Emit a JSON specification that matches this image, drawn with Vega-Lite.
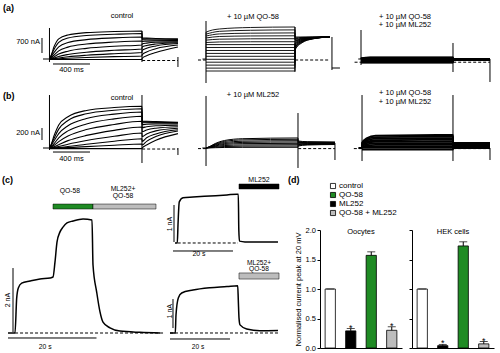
{
"$schema":"https://vega.github.io/schema/vega-lite/v6.json",
"padding":0,
"background":"white",
"config":{"view":{"stroke":null},"font":"Liberation Sans","mark":{"color":"black"},"text":{"color":"black","font":"Liberation Sans"},"axis":{"labelFont":"Liberation Sans","titleFont":"Liberation Sans"},"legend":{"labelFont":"Liberation Sans"},"title":{"font":"Liberation Sans"}},
"datasets":{
"a1":[
{"k":1,"t":-70,"i":0},{"k":1,"t":0,"i":0},{"k":1,"t":50,"i":588},{"k":1,"t":100,"i":941},{"k":1,"t":200,"i":1124},{"k":1,"t":400,"i":1229},{"k":1,"t":700,"i":1281},{"k":1,"t":1000,"i":1307},{"k":1,"t":1002,"i":980},{"k":1,"t":1050,"i":975},{"k":1,"t":1150,"i":960},{"k":1,"t":1389,"i":940},
{"k":2,"t":0,"i":0},{"k":2,"t":50,"i":452},{"k":2,"t":100,"i":774},{"k":2,"t":200,"i":976},{"k":2,"t":400,"i":1095},{"k":2,"t":700,"i":1154},{"k":2,"t":1000,"i":1190},{"k":2,"t":1002,"i":950},{"k":2,"t":1050,"i":940},{"k":2,"t":1150,"i":930},{"k":2,"t":1389,"i":910},
{"k":3,"t":0,"i":0},{"k":3,"t":50,"i":308},{"k":3,"t":100,"i":565},{"k":3,"t":200,"i":770},{"k":3,"t":400,"i":904},{"k":3,"t":700,"i":986},{"k":3,"t":1000,"i":1027},{"k":3,"t":1002,"i":900},{"k":3,"t":1050,"i":890},{"k":3,"t":1150,"i":880},{"k":3,"t":1389,"i":870},
{"k":4,"t":0,"i":0},{"k":4,"t":50,"i":185},{"k":4,"t":100,"i":378},{"k":4,"t":200,"i":554},{"k":4,"t":400,"i":697},{"k":4,"t":700,"i":790},{"k":4,"t":1000,"i":840},{"k":4,"t":1002,"i":820},{"k":4,"t":1050,"i":830},{"k":4,"t":1150,"i":840},{"k":4,"t":1389,"i":840},
{"k":5,"t":0,"i":0},{"k":5,"t":50,"i":98},{"k":5,"t":100,"i":229},{"k":5,"t":200,"i":366},{"k":5,"t":400,"i":496},{"k":5,"t":700,"i":594},{"k":5,"t":1000,"i":653},{"k":5,"t":1002,"i":700},{"k":5,"t":1050,"i":740},{"k":5,"t":1150,"i":780},{"k":5,"t":1389,"i":800},
{"k":6,"t":0,"i":0},{"k":6,"t":50,"i":47},{"k":6,"t":100,"i":117},{"k":6,"t":200,"i":210},{"k":6,"t":400,"i":318},{"k":6,"t":700,"i":406},{"k":6,"t":1000,"i":467},{"k":6,"t":1002,"i":560},{"k":6,"t":1050,"i":630},{"k":6,"t":1150,"i":700},{"k":6,"t":1389,"i":760},
{"k":7,"t":0,"i":0},{"k":7,"t":50,"i":18},{"k":7,"t":100,"i":48},{"k":7,"t":200,"i":103},{"k":7,"t":400,"i":176},{"k":7,"t":700,"i":248},{"k":7,"t":1000,"i":303},{"k":7,"t":1002,"i":400},{"k":7,"t":1050,"i":500},{"k":7,"t":1150,"i":610},{"k":7,"t":1389,"i":720},
{"k":8,"t":0,"i":0},{"k":8,"t":50,"i":4},{"k":8,"t":100,"i":14},{"k":8,"t":200,"i":35},{"k":8,"t":400,"i":70},{"k":8,"t":700,"i":109},{"k":8,"t":1000,"i":140},{"k":8,"t":1002,"i":200},{"k":8,"t":1050,"i":330},{"k":8,"t":1150,"i":480},{"k":8,"t":1389,"i":650},
{"k":9,"t":0,"i":-20},{"k":9,"t":1000,"i":-20},{"k":9,"t":1002,"i":30},{"k":9,"t":1050,"i":150},{"k":9,"t":1150,"i":300},{"k":9,"t":1389,"i":560}
],
"a2":[
{"k":1,"t":-40,"i":0},{"k":1,"t":-1,"i":0},{"k":1,"t":0,"i":1250},{"k":1,"t":150,"i":1400},{"k":1,"t":500,"i":1470},{"k":1,"t":1000,"i":1493},{"k":1,"t":1002,"i":1027},{"k":1,"t":1080,"i":1027},{"k":1,"t":1200,"i":1027},{"k":1,"t":1394,"i":1027},
{"k":2,"t":0,"i":1160},{"k":2,"t":150,"i":1290},{"k":2,"t":500,"i":1340},{"k":2,"t":1000,"i":1358},{"k":2,"t":1002,"i":987},{"k":2,"t":1080,"i":1009},{"k":2,"t":1200,"i":1021},{"k":2,"t":1394,"i":1027},
{"k":3,"t":0,"i":1070},{"k":3,"t":150,"i":1170},{"k":3,"t":500,"i":1205},{"k":3,"t":1000,"i":1218},{"k":3,"t":1002,"i":947},{"k":3,"t":1080,"i":991},{"k":3,"t":1200,"i":1015},{"k":3,"t":1394,"i":1027},
{"k":4,"t":0,"i":980},{"k":4,"t":150,"i":1050},{"k":4,"t":500,"i":1075},{"k":4,"t":1000,"i":1083},{"k":4,"t":1002,"i":907},{"k":4,"t":1080,"i":973},{"k":4,"t":1200,"i":1009},{"k":4,"t":1394,"i":1027},
{"k":5,"t":0,"i":880},{"k":5,"t":150,"i":925},{"k":5,"t":500,"i":942},{"k":5,"t":1000,"i":947},{"k":5,"t":1002,"i":867},{"k":5,"t":1080,"i":955},{"k":5,"t":1200,"i":1003},{"k":5,"t":1394,"i":1027},
{"k":6,"t":0,"i":770},{"k":6,"t":150,"i":795},{"k":6,"t":500,"i":805},{"k":6,"t":1000,"i":807},{"k":6,"t":1002,"i":827},{"k":6,"t":1080,"i":937},{"k":6,"t":1200,"i":997},{"k":6,"t":1394,"i":1027},
{"k":7,"t":0,"i":672},{"k":7,"t":1000,"i":672},{"k":7,"t":1002,"i":787},{"k":7,"t":1080,"i":919},{"k":7,"t":1200,"i":991},{"k":7,"t":1394,"i":1027},
{"k":8,"t":0,"i":537},{"k":8,"t":1000,"i":537},{"k":8,"t":1002,"i":747},{"k":8,"t":1080,"i":901},{"k":8,"t":1200,"i":985},{"k":8,"t":1394,"i":1027},
{"k":9,"t":0,"i":397},{"k":9,"t":1000,"i":397},{"k":9,"t":1002,"i":707},{"k":9,"t":1080,"i":883},{"k":9,"t":1200,"i":979},{"k":9,"t":1394,"i":1027},
{"k":10,"t":0,"i":261},{"k":10,"t":1000,"i":261},{"k":10,"t":1002,"i":667},{"k":10,"t":1080,"i":865},{"k":10,"t":1200,"i":973},{"k":10,"t":1394,"i":1027},
{"k":11,"t":0,"i":126},{"k":11,"t":1000,"i":126},{"k":11,"t":1002,"i":627},{"k":11,"t":1080,"i":847},{"k":11,"t":1200,"i":967},{"k":11,"t":1394,"i":1027},
{"k":12,"t":0,"i":-14},{"k":12,"t":1000,"i":-14},{"k":12,"t":1002,"i":587},{"k":12,"t":1080,"i":829},{"k":12,"t":1200,"i":961},{"k":12,"t":1394,"i":1027},
{"k":13,"t":0,"i":-149},{"k":13,"t":1000,"i":-149},{"k":13,"t":1002,"i":547},{"k":13,"t":1080,"i":811},{"k":13,"t":1200,"i":955},{"k":13,"t":1394,"i":1027},
{"k":14,"t":0,"i":-285},{"k":14,"t":1000,"i":-285},{"k":14,"t":1002,"i":507},{"k":14,"t":1080,"i":793},{"k":14,"t":1200,"i":949},{"k":14,"t":1394,"i":1027},
{"k":15,"t":0,"i":-425},{"k":15,"t":1000,"i":-425},{"k":15,"t":1002,"i":467},{"k":15,"t":1080,"i":775},{"k":15,"t":1200,"i":943},{"k":15,"t":1394,"i":1027},
{"k":16,"t":0,"i":-560},{"k":16,"t":1000,"i":-560},{"k":16,"t":1002,"i":427},{"k":16,"t":1080,"i":757},{"k":16,"t":1200,"i":937},{"k":16,"t":1394,"i":1027}
],
"a3":[
{"k":1,"t":-30,"i":0},{"k":1,"t":-1,"i":0},{"k":1,"t":0,"i":47},{"k":1,"t":100,"i":93},{"k":1,"t":1000,"i":93},{"k":1,"t":1002,"i":20},{"k":1,"t":1402,"i":20},
{"k":2,"t":0,"i":37},{"k":2,"t":100,"i":74},{"k":2,"t":1000,"i":74},{"k":2,"t":1002,"i":15},{"k":2,"t":1402,"i":15},
{"k":3,"t":0,"i":28},{"k":3,"t":100,"i":56},{"k":3,"t":1000,"i":56},{"k":3,"t":1002,"i":10},{"k":3,"t":1402,"i":10},
{"k":4,"t":0,"i":19},{"k":4,"t":100,"i":37},{"k":4,"t":1000,"i":37},{"k":4,"t":1002,"i":5},{"k":4,"t":1402,"i":5},
{"k":5,"t":0,"i":9},{"k":5,"t":100,"i":18},{"k":5,"t":1000,"i":18},{"k":5,"t":1002,"i":0},{"k":5,"t":1402,"i":0},
{"k":6,"t":0,"i":0},{"k":6,"t":1000,"i":0},{"k":6,"t":1002,"i":-5},{"k":6,"t":1402,"i":-5},
{"k":7,"t":0,"i":-19},{"k":7,"t":1000,"i":-19},{"k":7,"t":1002,"i":-10},{"k":7,"t":1402,"i":-10},
{"k":8,"t":0,"i":-37},{"k":8,"t":1000,"i":-37},{"k":8,"t":1002,"i":-15},{"k":8,"t":1402,"i":-15},
{"k":9,"t":0,"i":-56},{"k":9,"t":1000,"i":-56},{"k":9,"t":1002,"i":-20},{"k":9,"t":1402,"i":-20},
{"k":10,"t":0,"i":-75},{"k":10,"t":1000,"i":-75},{"k":10,"t":1002,"i":-25},{"k":10,"t":1402,"i":-25},
{"k":11,"t":0,"i":-93},{"k":11,"t":1000,"i":-93},{"k":11,"t":1002,"i":-30},{"k":11,"t":1402,"i":-30},
{"k":12,"t":0,"i":-112},{"k":12,"t":1000,"i":-112},{"k":12,"t":1002,"i":-35},{"k":12,"t":1402,"i":-35},
{"k":13,"t":0,"i":-131},{"k":13,"t":1000,"i":-131},{"k":13,"t":1002,"i":-40},{"k":13,"t":1402,"i":-40},
{"k":14,"t":0,"i":-149},{"k":14,"t":1000,"i":-149},{"k":14,"t":1002,"i":-45},{"k":14,"t":1402,"i":-45},
{"k":15,"t":0,"i":-168},{"k":15,"t":1000,"i":-168},{"k":15,"t":1002,"i":-50},{"k":15,"t":1402,"i":-50},
{"k":16,"t":0,"i":-187},{"k":16,"t":1000,"i":-187},{"k":16,"t":1002,"i":-55},{"k":16,"t":1402,"i":-55}
],
"b1":[
{"k":1,"t":-70,"i":0},{"k":1,"t":0,"i":0},{"k":1,"t":50,"i":209},{"k":1,"t":100,"i":382},{"k":1,"t":200,"i":521},{"k":1,"t":400,"i":626},{"k":1,"t":700,"i":674},{"k":1,"t":1000,"i":695},{"k":1,"t":1002,"i":450},{"k":1,"t":1050,"i":445},{"k":1,"t":1150,"i":440},{"k":1,"t":1389,"i":430},
{"k":2,"t":0,"i":0},{"k":2,"t":50,"i":164},{"k":2,"t":100,"i":314},{"k":2,"t":200,"i":459},{"k":2,"t":400,"i":570},{"k":2,"t":700,"i":629},{"k":2,"t":1000,"i":655},{"k":2,"t":1002,"i":440},{"k":2,"t":1050,"i":435},{"k":2,"t":1150,"i":430},{"k":2,"t":1389,"i":425},
{"k":3,"t":0,"i":0},{"k":3,"t":50,"i":120},{"k":3,"t":100,"i":240},{"k":3,"t":200,"i":372},{"k":3,"t":400,"i":492},{"k":3,"t":700,"i":564},{"k":3,"t":1000,"i":600},{"k":3,"t":1002,"i":420},{"k":3,"t":1050,"i":420},{"k":3,"t":1150,"i":418},{"k":3,"t":1389,"i":415},
{"k":4,"t":0,"i":0},{"k":4,"t":50,"i":74},{"k":4,"t":100,"i":169},{"k":4,"t":200,"i":285},{"k":4,"t":400,"i":401},{"k":4,"t":700,"i":486},{"k":4,"t":1000,"i":528},{"k":4,"t":1002,"i":390},{"k":4,"t":1050,"i":395},{"k":4,"t":1150,"i":400},{"k":4,"t":1389,"i":400},
{"k":5,"t":0,"i":0},{"k":5,"t":50,"i":45},{"k":5,"t":100,"i":107},{"k":5,"t":200,"i":200},{"k":5,"t":400,"i":307},{"k":5,"t":700,"i":392},{"k":5,"t":1000,"i":445},{"k":5,"t":1002,"i":340},{"k":5,"t":1050,"i":355},{"k":5,"t":1150,"i":370},{"k":5,"t":1389,"i":380},
{"k":6,"t":0,"i":0},{"k":6,"t":50,"i":21},{"k":6,"t":100,"i":56},{"k":6,"t":200,"i":123},{"k":6,"t":400,"i":210},{"k":6,"t":700,"i":294},{"k":6,"t":1000,"i":350},{"k":6,"t":1002,"i":270},{"k":6,"t":1050,"i":300},{"k":6,"t":1150,"i":330},{"k":6,"t":1389,"i":355},
{"k":7,"t":0,"i":0},{"k":7,"t":50,"i":10},{"k":7,"t":100,"i":25},{"k":7,"t":200,"i":63},{"k":7,"t":400,"i":125},{"k":7,"t":700,"i":195},{"k":7,"t":1000,"i":250},{"k":7,"t":1002,"i":190},{"k":7,"t":1050,"i":235},{"k":7,"t":1150,"i":285},{"k":7,"t":1389,"i":330},
{"k":8,"t":0,"i":0},{"k":8,"t":50,"i":3},{"k":8,"t":100,"i":9},{"k":8,"t":200,"i":25},{"k":8,"t":400,"i":62},{"k":8,"t":700,"i":112},{"k":8,"t":1000,"i":155},{"k":8,"t":1002,"i":110},{"k":8,"t":1050,"i":170},{"k":8,"t":1150,"i":235},{"k":8,"t":1389,"i":305},
{"k":9,"t":0,"i":0},{"k":9,"t":50,"i":1},{"k":9,"t":100,"i":3},{"k":9,"t":200,"i":8},{"k":9,"t":400,"i":23},{"k":9,"t":700,"i":47},{"k":9,"t":1000,"i":67},{"k":9,"t":1002,"i":50},{"k":9,"t":1050,"i":110},{"k":9,"t":1150,"i":190},{"k":9,"t":1389,"i":283},
{"k":10,"t":0,"i":-10},{"k":10,"t":1000,"i":-10},{"k":10,"t":1002,"i":0},{"k":10,"t":1050,"i":50},{"k":10,"t":1150,"i":130},{"k":10,"t":1389,"i":240}
],
"b2":[
{"k":1,"t":-40,"i":0},{"k":1,"t":0,"i":0},{"k":1,"t":50,"i":33},{"k":1,"t":100,"i":75},{"k":1,"t":200,"i":125},{"k":1,"t":400,"i":155},{"k":1,"t":1000,"i":167},{"k":1,"t":1002,"i":117},{"k":1,"t":1100,"i":105},{"k":1,"t":1402,"i":100},
{"k":2,"t":0,"i":0},{"k":2,"t":50,"i":29},{"k":2,"t":100,"i":65},{"k":2,"t":200,"i":109},{"k":2,"t":400,"i":135},{"k":2,"t":1000,"i":145},{"k":2,"t":1002,"i":105},{"k":2,"t":1100,"i":98},{"k":2,"t":1402,"i":94},
{"k":3,"t":0,"i":0},{"k":3,"t":50,"i":24},{"k":3,"t":100,"i":55},{"k":3,"t":200,"i":92},{"k":3,"t":400,"i":113},{"k":3,"t":1000,"i":122},{"k":3,"t":1002,"i":93},{"k":3,"t":1100,"i":90},{"k":3,"t":1402,"i":88},
{"k":4,"t":0,"i":0},{"k":4,"t":50,"i":20},{"k":4,"t":100,"i":45},{"k":4,"t":200,"i":75},{"k":4,"t":400,"i":93},{"k":4,"t":1000,"i":100},{"k":4,"t":1002,"i":81},{"k":4,"t":1100,"i":82},{"k":4,"t":1402,"i":82},
{"k":5,"t":0,"i":0},{"k":5,"t":50,"i":16},{"k":5,"t":100,"i":35},{"k":5,"t":200,"i":59},{"k":5,"t":400,"i":73},{"k":5,"t":1000,"i":78},{"k":5,"t":1002,"i":69},{"k":5,"t":1100,"i":74},{"k":5,"t":1402,"i":76},
{"k":6,"t":0,"i":0},{"k":6,"t":50,"i":11},{"k":6,"t":100,"i":25},{"k":6,"t":200,"i":41},{"k":6,"t":400,"i":51},{"k":6,"t":1000,"i":55},{"k":6,"t":1002,"i":57},{"k":6,"t":1100,"i":66},{"k":6,"t":1402,"i":70},
{"k":7,"t":0,"i":0},{"k":7,"t":50,"i":7},{"k":7,"t":100,"i":15},{"k":7,"t":200,"i":25},{"k":7,"t":400,"i":31},{"k":7,"t":1000,"i":33},{"k":7,"t":1002,"i":45},{"k":7,"t":1100,"i":58},{"k":7,"t":1402,"i":64},
{"k":8,"t":0,"i":0},{"k":8,"t":50,"i":2},{"k":8,"t":100,"i":5},{"k":8,"t":200,"i":9},{"k":8,"t":400,"i":11},{"k":8,"t":1000,"i":12},{"k":8,"t":1002,"i":33},{"k":8,"t":1100,"i":50},{"k":8,"t":1402,"i":58}
],
"b3":[
{"k":1,"t":-40,"i":0},{"k":1,"t":-1,"i":0},{"k":1,"t":0,"i":87},{"k":1,"t":50,"i":163},{"k":1,"t":150,"i":206},{"k":1,"t":1000,"i":217},{"k":1,"t":1002,"i":83},{"k":1,"t":1407,"i":83},
{"k":2,"t":0,"i":76},{"k":2,"t":50,"i":143},{"k":2,"t":150,"i":181},{"k":2,"t":1000,"i":190},{"k":2,"t":1002,"i":74},{"k":2,"t":1407,"i":74},
{"k":3,"t":0,"i":65},{"k":3,"t":50,"i":122},{"k":3,"t":150,"i":155},{"k":3,"t":1000,"i":163},{"k":3,"t":1002,"i":65},{"k":3,"t":1407,"i":65},
{"k":4,"t":0,"i":54},{"k":4,"t":50,"i":102},{"k":4,"t":150,"i":129},{"k":4,"t":1000,"i":136},{"k":4,"t":1002,"i":55},{"k":4,"t":1407,"i":55},
{"k":5,"t":0,"i":44},{"k":5,"t":50,"i":82},{"k":5,"t":150,"i":104},{"k":5,"t":1000,"i":109},{"k":5,"t":1002,"i":46},{"k":5,"t":1407,"i":46},
{"k":6,"t":0,"i":33},{"k":6,"t":50,"i":62},{"k":6,"t":150,"i":78},{"k":6,"t":1000,"i":82},{"k":6,"t":1002,"i":37},{"k":6,"t":1407,"i":37},
{"k":7,"t":0,"i":22},{"k":7,"t":50,"i":41},{"k":7,"t":150,"i":52},{"k":7,"t":1000,"i":55},{"k":7,"t":1002,"i":28},{"k":7,"t":1407,"i":28},
{"k":8,"t":0,"i":11},{"k":8,"t":50,"i":21},{"k":8,"t":150,"i":27},{"k":8,"t":1000,"i":28},{"k":8,"t":1002,"i":18},{"k":8,"t":1407,"i":18},
{"k":9,"t":0,"i":1},{"k":9,"t":1000,"i":1},{"k":9,"t":1002,"i":9},{"k":9,"t":1407,"i":9},
{"k":10,"t":0,"i":-26},{"k":10,"t":1000,"i":-26},{"k":10,"t":1002,"i":0},{"k":10,"t":1407,"i":0}
],
"cL":[
{"t":1.81,"i":0},{"t":3.39,"i":0},{"t":3.77,"i":1.09},{"t":4.14,"i":1.41},{"t":4.9,"i":1.56},{"t":6.78,"i":1.625},{"t":9.04,"i":1.69},{"t":11.3,"i":1.72},{"t":11.98,"i":1.75},{"t":12.43,"i":2.22},{"t":12.88,"i":2.84},{"t":13.56,"i":3.16},{"t":14.24,"i":3.31},{"t":15.14,"i":3.44},{"t":16.5,"i":3.5},{"t":18.76,"i":3.56},{"t":20.79,"i":3.53},{"t":21.02,"i":2.125},{"t":21.85,"i":1.28},{"t":22.6,"i":0.66},{"t":23.28,"i":0.34},{"t":24.86,"i":0.16},{"t":27.12,"i":0.06},{"t":31.64,"i":0.02},{"t":36.16,"i":0}
],
"cR1":[
{"t":5.0,"i":0},{"t":5.77,"i":0},{"t":6.0,"i":0.49},{"t":6.43,"i":1.11},{"t":7.67,"i":1.22},{"t":11.0,"i":1.24},{"t":16.67,"i":1.27},{"t":22.33,"i":1.3},{"t":25.67,"i":1.32},{"t":26.1,"i":1.32},{"t":26.27,"i":0.35},{"t":26.5,"i":0.05},{"t":28.33,"i":0.03},{"t":39.33,"i":0.03}
],
"cR2":[
{"t":3.33,"i":0},{"t":5.1,"i":0},{"t":5.33,"i":0.62},{"t":6.1,"i":1.21},{"t":7.23,"i":1.38},{"t":11.0,"i":1.48},{"t":16.67,"i":1.56},{"t":22.33,"i":1.6},{"t":25.9,"i":1.63},{"t":26.1,"i":1.14},{"t":26.33,"i":0.52},{"t":26.67,"i":0.28},{"t":28.9,"i":0.14},{"t":33.33,"i":0.08},{"t":39.33,"i":0.086}
],
"rules":[
{"p":"a1","t":0,"i":1447,"t2":0,"i2":-140},{"p":"a1","t":1000,"i":1307,"t2":1000,"i2":-140},{"p":"a1","t":1389,"i":93,"t2":1389,"i2":-373},{"p":"a1","t":-81,"i":280,"t2":-81,"i2":980},{"p":"a1","t":38,"i":-233,"t2":438,"i2":-233},
{"p":"a2","t":0,"i":1773,"t2":0,"i2":-1120},{"p":"a2","t":1000,"i":1493,"t2":1000,"i2":-607},{"p":"a2","t":1416,"i":1027,"t2":1416,"i2":-513},{"p":"a2","t":1416,"i":-420,"t2":1506,"i2":-420},
{"p":"a3","t":0,"i":1353,"t2":0,"i2":-280},{"p":"a3","t":1000,"i":747,"t2":1000,"i2":-607},{"p":"a3","t":1402,"i":0,"t2":1402,"i2":-1073},
{"p":"b1","t":0,"i":883,"t2":0,"i2":-33},{"p":"b1","t":1000,"i":883,"t2":1000,"i2":-250},{"p":"b1","t":1389,"i":0,"t2":1389,"i2":-117},{"p":"b1","t":-81,"i":133,"t2":-81,"i2":333},{"p":"b1","t":38,"i":-67,"t2":438,"i2":-67},
{"p":"b2","t":0,"i":867,"t2":0,"i2":-300},{"p":"b2","t":1000,"i":583,"t2":1000,"i2":-333},{"p":"b2","t":1402,"i":83,"t2":1402,"i2":-200},
{"p":"b3","t":0,"i":883,"t2":0,"i2":-217},{"p":"b3","t":1000,"i":883,"t2":1000,"i2":-217},{"p":"b3","t":1407,"i":0,"t2":1407,"i2":-200},
{"p":"cL","t":2.94,"i":0.03,"t2":2.94,"i2":2.03},{"p":"cL","t":1.81,"i":-0.156,"t2":21.81,"i2":-0.156},
{"p":"cR1","t":4.67,"i":0.027,"t2":4.67,"i2":1.027},{"p":"cR1","t":4.33,"i":-0.216,"t2":24.33,"i2":-0.216},
{"p":"cR2","t":4.33,"i":0.17,"t2":4.33,"i2":1.17},{"p":"cR2","t":3.33,"i":-0.207,"t2":23.33,"i2":-0.207}
],
"dash":[
{"p":"a1","t":1002,"i":-70,"t2":1389,"i2":-70},
{"p":"a2","t":-90,"i":-47,"t2":0,"i2":-47},{"p":"a2","t":1002,"i":-47,"t2":1394,"i2":-47},
{"p":"a3","t":-70,"i":-150,"t2":0,"i2":-150},{"p":"a3","t":1002,"i":-150,"t2":1402,"i2":-150},
{"p":"b1","t":1002,"i":-17,"t2":1389,"i2":-17},
{"p":"b2","t":-87,"i":-10,"t2":0,"i2":-10},{"p":"b2","t":1002,"i":-10,"t2":1402,"i2":-10},
{"p":"b3","t":-90,"i":-10,"t2":0,"i2":-10},{"p":"b3","t":1002,"i":-10,"t2":1407,"i2":-10},
{"p":"cL","t":3.4,"i":0,"t2":37,"i2":0},
{"p":"cR1","t":5.9,"i":0,"t2":26,"i2":0},
{"p":"cR2","t":3.33,"i":0,"t2":39.33,"i2":0}
],
"txt":[
{"p":"a1","t":784,"i":2007,"s":"control"},{"p":"a1","t":238,"i":-513,"s":"400 ms"},
{"p":"a2","t":528,"i":1960,"s":"+ 10 µM QO-58"},
{"p":"a3","t":478,"i":1974,"s":"+ 10 µM QO-58"},{"p":"a3","t":478,"i":1587,"s":"+ 10 µM ML252"},
{"p":"b1","t":784,"i":833,"s":"control"},{"p":"b1","t":238,"i":-183,"s":"400 ms"},
{"p":"b2","t":511,"i":883,"s":"+ 10 µM ML252"},
{"p":"b3","t":473,"i":917,"s":"+ 10 µM QO-58"},{"p":"b3","t":473,"i":767,"s":"+ 10 µM ML252"},
{"p":"cL","t":15.8,"i":4.44,"s":"QO-58"},{"p":"cL","t":27.8,"i":4.51,"s":"ML252+"},{"p":"cL","t":27.8,"i":4.29,"s":"QO-58"},{"p":"cL","t":10.2,"i":-0.44,"s":"20 s"},
{"p":"cR1","t":33,"i":1.7,"s":"ML252"},{"p":"cR1","t":13,"i":-0.305,"s":"20 s"},
{"p":"cR2","t":33,"i":2.43,"s":"ML252+"},{"p":"cR2","t":33,"i":2.19,"s":"QO-58"},{"p":"cR2","t":12.7,"i":-0.47,"s":"20 s"}
],
"txtR":[
{"p":"a1","t":-103,"i":793,"s":"700 nA"},
{"p":"b1","t":-103,"i":250,"s":"200 nA"}
],
"txtB":[
{"p":"a1","t":-503,"i":2380,"s":"(a)"},
{"p":"b1","t":-503,"i":867,"s":"(b)"},
{"p":"cL","t":0.45,"i":4.78,"s":"(c)"},
{"p":"cR1","t":42.67,"i":1.7,"s":"(d)"}
],
"txtV":[
{"p":"cL","t":1.81,"i":1.03,"s":"2 nA"},
{"p":"cR1","t":3.17,"i":0.51,"s":"1 nA"},
{"p":"cR2","t":3.17,"i":0.75,"s":"1 nA"}
],
"rect":[
{"p":"cL","t":11.98,"t2":21.02,"i":3.875,"i2":4.03,"g":"QO-58"},
{"p":"cL","t":21.02,"t2":35.25,"i":3.875,"i2":4.03,"g":"QO-58 + ML252"},
{"p":"cR1","t":26.33,"t2":39.67,"i":1.46,"i2":1.595,"g":"ML252"},
{"p":"cR2","t":26.33,"t2":39.67,"i":1.86,"i2":2.07,"g":"QO-58 + ML252"}
],
"bars":[
{"c":"Oocytes","g":"control","v":1,"hi":1,"s":""},
{"c":"Oocytes","g":"ML252","v":0.29,"hi":0.33,"s":"*"},
{"c":"Oocytes","g":"QO-58","v":1.57,"hi":1.63,"s":""},
{"c":"Oocytes","g":"QO-58 + ML252","v":0.3,"hi":0.36,"s":"*"},
{"c":"HEK cells","g":"control","v":1,"hi":1,"s":""},
{"c":"HEK cells","g":"ML252","v":0.04,"hi":0.06,"s":"*"},
{"c":"HEK cells","g":"QO-58","v":1.73,"hi":1.8,"s":""},
{"c":"HEK cells","g":"QO-58 + ML252","v":0.07,"hi":0.11,"s":"*"}
]
},
"spacing":0,
"vconcat":[
{"hconcat":[
{"width":165,"height":88,
"encoding":{"x":{"field":"t","type":"quantitative","scale":{"domain":[-535,1249],"nice":false,"zero":false},"axis":null},"y":{"field":"i","type":"quantitative","scale":{"domain":[-1353,2753],"nice":false,"zero":false},"axis":null}},
"layer":[
{"data":{"name":"a1"},"mark":{"type":"line","interpolate":"monotone","color":"black","strokeWidth":1.1},"encoding":{"detail":{"field":"k","type":"nominal"}}},
{"data":{"name":"rules"},"transform":[{"filter":"datum.p=='a1'"}],"mark":{"type":"rule","color":"black","strokeWidth":1},"encoding":{"x2":{"field":"t2"},"y2":{"field":"i2"}}},
{"data":{"name":"dash"},"transform":[{"filter":"datum.p=='a1'"}],"mark":{"type":"rule","color":"black","strokeWidth":1,"strokeDash":[3,2]},"encoding":{"x2":{"field":"t2"},"y2":{"field":"i2"}}},
{"data":{"name":"txt"},"transform":[{"filter":"datum.p=='a1'"}],"mark":{"type":"text","fontSize":7.5,"align":"center","baseline":"middle","color":"black"},"encoding":{"text":{"field":"s"}}},
{"data":{"name":"txtR"},"transform":[{"filter":"datum.p=='a1'"}],"mark":{"type":"text","fontSize":7.5,"align":"right","baseline":"middle","color":"black"},"encoding":{"text":{"field":"s"}}},
{"data":{"name":"txtB"},"transform":[{"filter":"datum.p=='a1'"}],"mark":{"type":"text","fontSize":9,"fontWeight":"bold","align":"left","baseline":"middle","color":"black"},"encoding":{"text":{"field":"s"}}}
]},
{"width":165,"height":88,
"encoding":{"x":{"field":"t","type":"quantitative","scale":{"domain":[-461,1394],"nice":false,"zero":false},"axis":null},"y":{"field":"i","type":"quantitative","scale":{"domain":[-1353,2753],"nice":false,"zero":false},"axis":null}},
"layer":[
{"data":{"name":"a2"},"mark":{"type":"line","interpolate":"monotone","color":"black","strokeWidth":0.9},"encoding":{"detail":{"field":"k","type":"nominal"}}},
{"data":{"name":"rules"},"transform":[{"filter":"datum.p=='a2'"}],"mark":{"type":"rule","color":"black","strokeWidth":1},"encoding":{"x2":{"field":"t2"},"y2":{"field":"i2"}}},
{"data":{"name":"dash"},"transform":[{"filter":"datum.p=='a2'"}],"mark":{"type":"rule","color":"black","strokeWidth":1,"strokeDash":[3,2]},"encoding":{"x2":{"field":"t2"},"y2":{"field":"i2"}}},
{"data":{"name":"txt"},"transform":[{"filter":"datum.p=='a2'"}],"mark":{"type":"text","fontSize":7.5,"align":"center","baseline":"middle","color":"black"},"encoding":{"text":{"field":"s"}}}
]},
{"width":170,"height":88,
"encoding":{"x":{"field":"t","type":"quantitative","scale":{"domain":[-337,1511],"nice":false,"zero":false},"axis":null},"y":{"field":"i","type":"quantitative","scale":{"domain":[-1353,2753],"nice":false,"zero":false},"axis":null}},
"layer":[
{"data":{"name":"a3"},"mark":{"type":"line","interpolate":"monotone","color":"black","strokeWidth":1.2},"encoding":{"detail":{"field":"k","type":"nominal"}}},
{"data":{"name":"rules"},"transform":[{"filter":"datum.p=='a3'"}],"mark":{"type":"rule","color":"black","strokeWidth":1},"encoding":{"x2":{"field":"t2"},"y2":{"field":"i2"}}},
{"data":{"name":"dash"},"transform":[{"filter":"datum.p=='a3'"}],"mark":{"type":"rule","color":"black","strokeWidth":1,"strokeDash":[3,2]},"encoding":{"x2":{"field":"t2"},"y2":{"field":"i2"}}},
{"data":{"name":"txt"},"transform":[{"filter":"datum.p=='a3'"}],"mark":{"type":"text","fontSize":7.5,"align":"center","baseline":"middle","color":"black"},"encoding":{"text":{"field":"s"}}}
]}
],"spacing":0,"bounds":"flush"},
{"hconcat":[
{"width":165,"height":81,
"encoding":{"x":{"field":"t","type":"quantitative","scale":{"domain":[-535,1249],"nice":false,"zero":false},"axis":null},"y":{"field":"i","type":"quantitative","scale":{"domain":[-350,1000],"nice":false,"zero":false},"axis":null}},
"layer":[
{"data":{"name":"b1"},"mark":{"type":"line","interpolate":"monotone","color":"black","strokeWidth":1.1},"encoding":{"detail":{"field":"k","type":"nominal"}}},
{"data":{"name":"rules"},"transform":[{"filter":"datum.p=='b1'"}],"mark":{"type":"rule","color":"black","strokeWidth":1},"encoding":{"x2":{"field":"t2"},"y2":{"field":"i2"}}},
{"data":{"name":"dash"},"transform":[{"filter":"datum.p=='b1'"}],"mark":{"type":"rule","color":"black","strokeWidth":1,"strokeDash":[3,2]},"encoding":{"x2":{"field":"t2"},"y2":{"field":"i2"}}},
{"data":{"name":"txt"},"transform":[{"filter":"datum.p=='b1'"}],"mark":{"type":"text","fontSize":7.5,"align":"center","baseline":"middle","color":"black"},"encoding":{"text":{"field":"s"}}},
{"data":{"name":"txtR"},"transform":[{"filter":"datum.p=='b1'"}],"mark":{"type":"text","fontSize":7.5,"align":"right","baseline":"middle","color":"black"},"encoding":{"text":{"field":"s"}}},
{"data":{"name":"txtB"},"transform":[{"filter":"datum.p=='b1'"}],"mark":{"type":"text","fontSize":9,"fontWeight":"bold","align":"left","baseline":"middle","color":"black"},"encoding":{"text":{"field":"s"}}}
]},
{"width":165,"height":81,
"encoding":{"x":{"field":"t","type":"quantitative","scale":{"domain":[-446,1348],"nice":false,"zero":false},"axis":null},"y":{"field":"i","type":"quantitative","scale":{"domain":[-350,1000],"nice":false,"zero":false},"axis":null}},
"layer":[
{"data":{"name":"b2"},"mark":{"type":"line","interpolate":"monotone","color":"black","strokeWidth":1},"encoding":{"detail":{"field":"k","type":"nominal"}}},
{"data":{"name":"rules"},"transform":[{"filter":"datum.p=='b2'"}],"mark":{"type":"rule","color":"black","strokeWidth":1},"encoding":{"x2":{"field":"t2"},"y2":{"field":"i2"}}},
{"data":{"name":"dash"},"transform":[{"filter":"datum.p=='b2'"}],"mark":{"type":"rule","color":"black","strokeWidth":1,"strokeDash":[3,2]},"encoding":{"x2":{"field":"t2"},"y2":{"field":"i2"}}},
{"data":{"name":"txt"},"transform":[{"filter":"datum.p=='b2'"}],"mark":{"type":"text","fontSize":7.5,"align":"center","baseline":"middle","color":"black"},"encoding":{"text":{"field":"s"}}}
]},
{"width":170,"height":81,
"encoding":{"x":{"field":"t","type":"quantitative","scale":{"domain":[-352,1517],"nice":false,"zero":false},"axis":null},"y":{"field":"i","type":"quantitative","scale":{"domain":[-350,1000],"nice":false,"zero":false},"axis":null}},
"layer":[
{"data":{"name":"b3"},"mark":{"type":"line","interpolate":"monotone","color":"black","strokeWidth":1.8},"encoding":{"detail":{"field":"k","type":"nominal"}}},
{"data":{"name":"rules"},"transform":[{"filter":"datum.p=='b3'"}],"mark":{"type":"rule","color":"black","strokeWidth":1},"encoding":{"x2":{"field":"t2"},"y2":{"field":"i2"}}},
{"data":{"name":"dash"},"transform":[{"filter":"datum.p=='b3'"}],"mark":{"type":"rule","color":"black","strokeWidth":1,"strokeDash":[3,2]},"encoding":{"x2":{"field":"t2"},"y2":{"field":"i2"}}},
{"data":{"name":"txt"},"transform":[{"filter":"datum.p=='b3'"}],"mark":{"type":"text","fontSize":7.5,"align":"center","baseline":"middle","color":"black"},"encoding":{"text":{"field":"s"}}}
]}
],"spacing":0,"bounds":"flush"},
{"hconcat":[
{"width":150,"height":184,
"encoding":{"x":{"field":"t","type":"quantitative","scale":{"domain":[0,33.9],"nice":false,"zero":false},"axis":null},"y":{"field":"i","type":"quantitative","scale":{"domain":[-0.625,5.125],"nice":false,"zero":false},"axis":null}},
"layer":[
{"data":{"name":"rect"},"transform":[{"filter":"datum.p=='cL'"}],"mark":{"type":"rect","stroke":"black","strokeWidth":0.5},"encoding":{"x2":{"field":"t2"},"y2":{"field":"i2"},"fill":{"field":"g","type":"nominal","scale":{"domain":["control","QO-58","ML252","QO-58 + ML252"],"range":["white","#1f8b24","black","#bdbdbd"]},"legend":null}}},
{"data":{"name":"dash"},"transform":[{"filter":"datum.p=='cL'"}],"mark":{"type":"rule","color":"black","strokeWidth":1,"strokeDash":[3,2]},"encoding":{"x2":{"field":"t2"},"y2":{"field":"i2"}}},
{"data":{"name":"cL"},"mark":{"type":"line","interpolate":"monotone","color":"black","strokeWidth":1.5}},
{"data":{"name":"rules"},"transform":[{"filter":"datum.p=='cL'"}],"mark":{"type":"rule","color":"black","strokeWidth":1},"encoding":{"x2":{"field":"t2"},"y2":{"field":"i2"}}},
{"data":{"name":"txt"},"transform":[{"filter":"datum.p=='cL'"}],"mark":{"type":"text","fontSize":6.8,"align":"center","baseline":"middle","color":"black"},"encoding":{"text":{"field":"s"}}},
{"data":{"name":"txtB"},"transform":[{"filter":"datum.p=='cL'"}],"mark":{"type":"text","fontSize":9,"fontWeight":"bold","align":"left","baseline":"middle","color":"black"},"encoding":{"text":{"field":"s"}}},
{"data":{"name":"txtV"},"transform":[{"filter":"datum.p=='cL'"}],"mark":{"type":"text","fontSize":7,"angle":270,"align":"center","baseline":"middle","color":"black"},"encoding":{"text":{"field":"s"}}}
]},
{"width":150,"height":184,
"encoding":{"x":{"field":"t","type":"quantitative","scale":{"domain":[0,50],"nice":false,"zero":false},"axis":null}},
"layer":[
{"encoding":{"y":{"field":"i","type":"quantitative","scale":{"domain":[-2.973,2.0],"nice":false,"zero":false},"axis":null}},
"layer":[
{"data":{"name":"rect"},"transform":[{"filter":"datum.p=='cR1'"}],"mark":{"type":"rect","stroke":"black","strokeWidth":0.5},"encoding":{"x2":{"field":"t2"},"y2":{"field":"i2"},"fill":{"field":"g","type":"nominal","scale":{"domain":["control","QO-58","ML252","QO-58 + ML252"],"range":["white","#1f8b24","black","#bdbdbd"]},"legend":null}}},
{"data":{"name":"dash"},"transform":[{"filter":"datum.p=='cR1'"}],"mark":{"type":"rule","color":"black","strokeWidth":1,"strokeDash":[3,2]},"encoding":{"x2":{"field":"t2"},"y2":{"field":"i2"}}},
{"data":{"name":"cR1"},"mark":{"type":"line","interpolate":"monotone","color":"black","strokeWidth":1.5}},
{"data":{"name":"rules"},"transform":[{"filter":"datum.p=='cR1'"}],"mark":{"type":"rule","color":"black","strokeWidth":1},"encoding":{"x2":{"field":"t2"},"y2":{"field":"i2"}}},
{"data":{"name":"txt"},"transform":[{"filter":"datum.p=='cR1'"}],"mark":{"type":"text","fontSize":7,"align":"center","baseline":"middle","color":"black"},"encoding":{"text":{"field":"s"}}},
{"data":{"name":"txtB"},"transform":[{"filter":"datum.p=='cR1'"}],"mark":{"type":"text","fontSize":9,"fontWeight":"bold","align":"left","baseline":"middle","color":"black"},"encoding":{"text":{"field":"s"}}},
{"data":{"name":"txtV"},"transform":[{"filter":"datum.p=='cR1'"}],"mark":{"type":"text","fontSize":7,"angle":270,"align":"center","baseline":"middle","color":"black"},"encoding":{"text":{"field":"s"}}}
]},
{"encoding":{"y":{"field":"i","type":"quantitative","scale":{"domain":[-0.69,5.655],"nice":false,"zero":false},"axis":null}},
"layer":[
{"data":{"name":"rect"},"transform":[{"filter":"datum.p=='cR2'"}],"mark":{"type":"rect","stroke":"black","strokeWidth":0.5},"encoding":{"x2":{"field":"t2"},"y2":{"field":"i2"},"fill":{"field":"g","type":"nominal","scale":{"domain":["control","QO-58","ML252","QO-58 + ML252"],"range":["white","#1f8b24","black","#bdbdbd"]},"legend":null}}},
{"data":{"name":"dash"},"transform":[{"filter":"datum.p=='cR2'"}],"mark":{"type":"rule","color":"black","strokeWidth":1,"strokeDash":[3,2]},"encoding":{"x2":{"field":"t2"},"y2":{"field":"i2"}}},
{"data":{"name":"cR2"},"mark":{"type":"line","interpolate":"monotone","color":"black","strokeWidth":1.5}},
{"data":{"name":"rules"},"transform":[{"filter":"datum.p=='cR2'"}],"mark":{"type":"rule","color":"black","strokeWidth":1},"encoding":{"x2":{"field":"t2"},"y2":{"field":"i2"}}},
{"data":{"name":"txt"},"transform":[{"filter":"datum.p=='cR2'"}],"mark":{"type":"text","fontSize":6.6,"align":"center","baseline":"middle","color":"black"},"encoding":{"text":{"field":"s"}}},
{"data":{"name":"txtV"},"transform":[{"filter":"datum.p=='cR2'"}],"mark":{"type":"text","fontSize":7,"angle":270,"align":"center","baseline":"middle","color":"black"},"encoding":{"text":{"field":"s"}}}
]}
],
"resolve":{"scale":{"y":"independent"}}},
{"width":82,"height":184,
"data":{"name":"bars"},
"transform":[{"filter":"datum.c=='Oocytes'"}],
"title":{"text":"Oocytes","fontSize":7.5,"fontWeight":"normal","frame":"group","offset":-66,"color":"black"},
"encoding":{"x":{"field":"g","type":"nominal","sort":["control","ML252","QO-58","QO-58 + ML252"],"scale":{"paddingInner":0.5,"paddingOuter":0.25},"axis":{"title":null,"labels":false,"ticks":false,"domainColor":"black","domainWidth":1,"offset":-5}}},
"layer":[
{"mark":{"type":"bar","stroke":"black","strokeWidth":0.8},"encoding":{"y":{"field":"v","type":"quantitative","scale":{"domain":[0,2],"range":[179,61],"nice":false},"axis":{"values":[0,0.5,1,1.5,2],"format":".1f","title":"Normalised current peak at 20 mV","titleFontSize":7.5,"titleFontWeight":"normal","titleColor":"black","labelFontSize":7.5,"labelColor":"black","tickColor":"black","domainColor":"black","tickSize":3,"labelPadding":1.5,"titlePadding":3,"grid":false}},"fill":{"field":"g","type":"nominal","scale":{"domain":["control","QO-58","ML252","QO-58 + ML252"],"range":["white","#1f8b24","black","#bdbdbd"]},"legend":{"orient":"none","legendX":9,"legendY":13,"title":null,"symbolType":"square","symbolSize":26,"symbolStrokeColor":"black","symbolStrokeWidth":0.8,"symbolOpacity":1,"labelFontSize":8,"labelColor":"black","rowPadding":-1.5,"padding":0,"labelOffset":2}}}},
{"mark":{"type":"rule","color":"black","strokeWidth":1},"encoding":{"y":{"field":"v","type":"quantitative","scale":{"domain":[0,2],"range":[179,61],"nice":false},"axis":{"values":[0,0.5,1,1.5,2],"format":".1f","title":"Normalised current peak at 20 mV","titleFontSize":7.5,"titleFontWeight":"normal","titleColor":"black","labelFontSize":7.5,"labelColor":"black","tickColor":"black","domainColor":"black","tickSize":3,"labelPadding":1.5,"titlePadding":3,"grid":false}},"y2":{"field":"hi"}}},
{"mark":{"type":"tick","color":"black","thickness":1,"size":8},"encoding":{"y":{"field":"hi","type":"quantitative","scale":{"domain":[0,2],"range":[179,61],"nice":false},"axis":{"values":[0,0.5,1,1.5,2],"format":".1f","title":"Normalised current peak at 20 mV","titleFontSize":7.5,"titleFontWeight":"normal","titleColor":"black","labelFontSize":7.5,"labelColor":"black","tickColor":"black","domainColor":"black","tickSize":3,"labelPadding":1.5,"titlePadding":3,"grid":false}}}},
{"mark":{"type":"text","fontSize":9,"baseline":"alphabetic","dy":2,"color":"black"},"encoding":{"y":{"field":"hi","type":"quantitative","scale":{"domain":[0,2],"range":[179,61],"nice":false},"axis":{"values":[0,0.5,1,1.5,2],"format":".1f","title":"Normalised current peak at 20 mV","titleFontSize":7.5,"titleFontWeight":"normal","titleColor":"black","labelFontSize":7.5,"labelColor":"black","tickColor":"black","domainColor":"black","tickSize":3,"labelPadding":1.5,"titlePadding":3,"grid":false}},"text":{"field":"s"}}}
]},
{"width":82,"height":184,
"data":{"name":"bars"},
"transform":[{"filter":"datum.c=='HEK cells'"}],
"title":{"text":"HEK cells","fontSize":7.5,"fontWeight":"normal","frame":"group","offset":-66,"color":"black"},
"encoding":{"x":{"field":"g","type":"nominal","sort":["control","ML252","QO-58","QO-58 + ML252"],"scale":{"paddingInner":0.5,"paddingOuter":0.25},"axis":{"title":null,"labels":false,"ticks":false,"domainColor":"black","domainWidth":1,"offset":-5}}},
"layer":[
{"mark":{"type":"bar","stroke":"black","strokeWidth":0.8},"encoding":{"y":{"field":"v","type":"quantitative","scale":{"domain":[0,2],"range":[179,61],"nice":false},"axis":{"values":[0,0.5,1,1.5,2],"labels":false,"title":null,"tickColor":"black","domainColor":"black","tickSize":3,"grid":false}},"fill":{"field":"g","type":"nominal","scale":{"domain":["control","QO-58","ML252","QO-58 + ML252"],"range":["white","#1f8b24","black","#bdbdbd"]},"legend":null}}},
{"mark":{"type":"rule","color":"black","strokeWidth":1},"encoding":{"y":{"field":"v","type":"quantitative","scale":{"domain":[0,2],"range":[179,61],"nice":false},"axis":{"values":[0,0.5,1,1.5,2],"labels":false,"title":null,"tickColor":"black","domainColor":"black","tickSize":3,"grid":false}},"y2":{"field":"hi"}}},
{"mark":{"type":"tick","color":"black","thickness":1,"size":8},"encoding":{"y":{"field":"hi","type":"quantitative","scale":{"domain":[0,2],"range":[179,61],"nice":false},"axis":{"values":[0,0.5,1,1.5,2],"labels":false,"title":null,"tickColor":"black","domainColor":"black","tickSize":3,"grid":false}}}},
{"mark":{"type":"text","fontSize":9,"baseline":"alphabetic","dy":2,"color":"black"},"encoding":{"y":{"field":"hi","type":"quantitative","scale":{"domain":[0,2],"range":[179,61],"nice":false},"axis":{"values":[0,0.5,1,1.5,2],"labels":false,"title":null,"tickColor":"black","domainColor":"black","tickSize":3,"grid":false}},"text":{"field":"s"}}}
]}
],"spacing":10,"bounds":"flush","resolve":{"scale":{"fill":"independent"},"legend":{"fill":"independent"}}}
]
}
